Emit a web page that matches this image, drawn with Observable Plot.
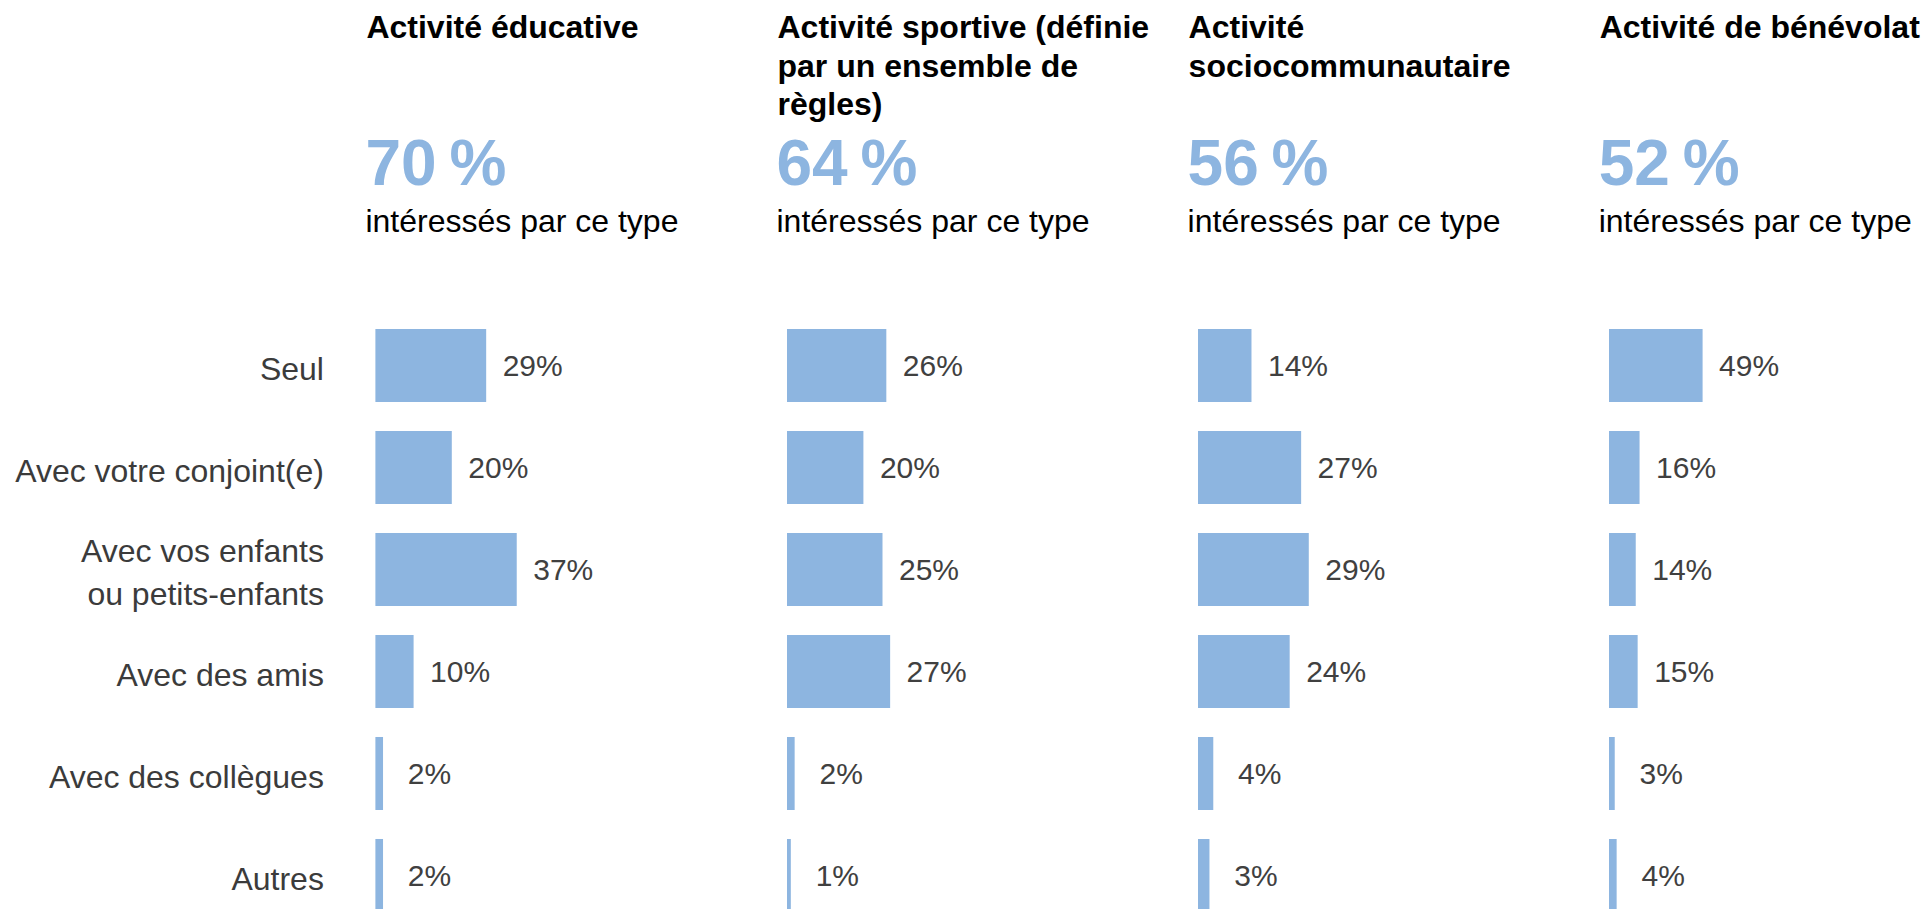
<!DOCTYPE html>
<html><head><meta charset="utf-8">
<script src="https://cdn.jsdelivr.net/npm/d3@7"></script>
<script src="https://cdn.jsdelivr.net/npm/@observablehq/plot@0.6"></script>
<style>
html,body{margin:0;padding:0;background:#fff;overflow:hidden;}
body{width:1924px;height:909px;position:relative;font-family:"Liberation Sans",Arial,sans-serif;}
.title{position:absolute;top:8px;font-weight:bold;font-size:32px;line-height:38.5px;color:#000;white-space:pre-line;}
.big{position:absolute;top:131px;font-weight:bold;font-size:64px;line-height:64px;color:#8db5e0;white-space:nowrap;}
.sub{position:absolute;top:205px;font-size:32px;line-height:32px;color:#000;white-space:nowrap;}
.panel{position:absolute;top:300px;}
</style></head><body>
<script>
// ---- data ----
const categories = ["Seul", "Avec votre conjoint(e)", "Avec vos enfants\nou petits-enfants", "Avec des amis", "Avec des collègues", "Autres"];
const activities = ["Activité éducative", "Activité sportive (définie\npar un ensemble de\nrègles)", "Activité\nsociocommunautaire", "Activité de bénévolat"];
const interested = [70, 64, 56, 52];
const subtitle = "intéressés par ce type";
const educative = [29, 20, 37, 10, 2, 2];
const sportive = [26, 20, 25, 27, 2, 1];
const socio = [14, 27, 29, 24, 4, 3];
const benevolat = [49, 16, 14, 15, 3, 4];
const xMax = [50, 50, 50, 100];

// ---- layout ----
const series = [educative, sportive, socio, benevolat];
const firstBarLeft = 375.4, panelStep = 411.1, barSpan = 191;
const blue = "#8db5e0";

series.forEach((vals, i) => {
  const barLeft = firstBarLeft + i * panelStep;
  const hx = barLeft - 9;

  const t = document.createElement("div");
  t.className = "title"; t.style.left = hx + "px"; t.textContent = activities[i];
  document.body.appendChild(t);
  const b = document.createElement("div");
  b.className = "big"; b.style.left = (hx - 1) + "px"; b.textContent = interested[i] + "\u202F%";
  document.body.appendChild(b);
  const s = document.createElement("div");
  s.className = "sub"; s.style.left = (hx - 1) + "px"; s.textContent = subtitle;
  document.body.appendChild(s);

  const rows = categories.map((c, j) => ({category: c, value: vals[j]}));
  const ml = i === 0 ? barLeft : 10;
  const marks = [
    Plot.barX(rows, {x: "value", y: "category", fill: blue}),
    Plot.text(rows, {x: "value", y: "category", text: d => d.value + "%", dx: 46, textAnchor: "middle", fontSize: 30, fill: "#404040"})
  ];
  if (i === 0) marks.push(Plot.axisY({tickSize: 0, tickPadding: 52, fontSize: 32, lineHeight: 1.32, label: null}));
  const chart = Plot.plot({
    width: ml + barSpan + 60,
    height: 612,
    marginTop: 28.3, marginBottom: 0, marginLeft: ml, marginRight: 60,
    style: {fontFamily: "Liberation Sans, Arial, sans-serif", color: "#3b3b3b", overflow: "visible", background: "transparent"},
    x: {domain: [0, xMax[i]], axis: null},
    y: {domain: categories, paddingInner: 0.285, paddingOuter: 0, axis: null},
    marks
  });
  const wrap = document.createElement("div");
  wrap.className = "panel";
  wrap.style.left = (barLeft - ml) + "px";
  wrap.appendChild(chart);
  document.body.appendChild(wrap);
});
</script>
</body></html>
